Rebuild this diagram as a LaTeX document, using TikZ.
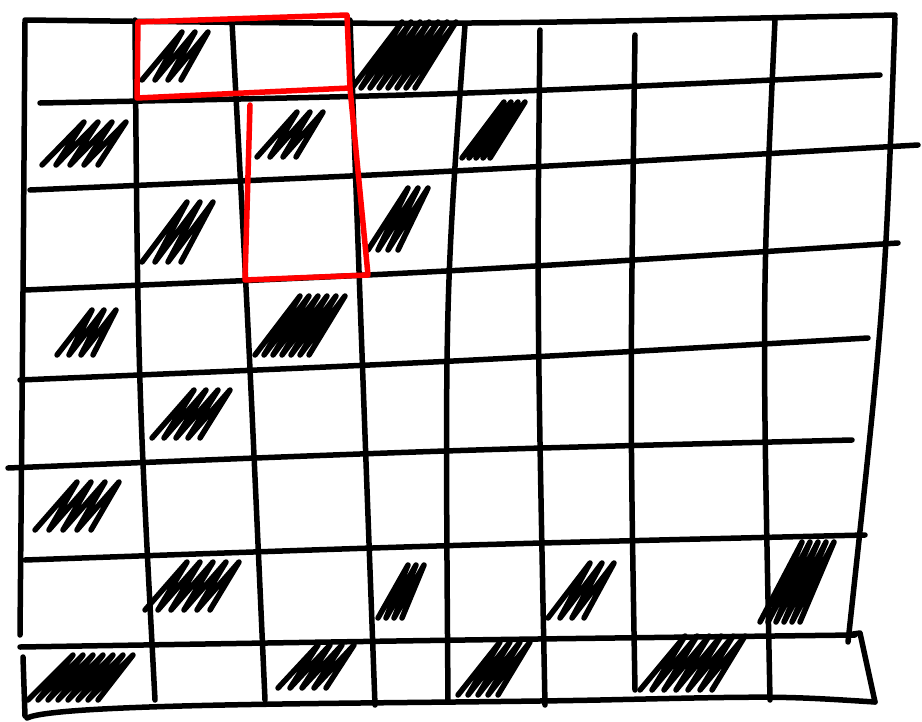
\documentclass[tikz,border=0pt]{standalone}
\begin{document}
\begin{tikzpicture}[x=1pt,y=-1pt,
  gridline/.style={line width=5.5pt,line cap=round,line join=round,black},
  hatch/.style={line width=5.5pt,line cap=round,line join=round,black},
  redline/.style={line width=5.5pt,line cap=round,line join=round,red}]
\useasboundingbox[fill=white] (0,0) rectangle (922,721);
% scribble hatch: #1 x0, #2 ytop, #3 ybot, #4 slant width, #5 step, #6 count
\newcommand\scrib[6]{\draw[hatch] (#1,#3) \foreach \i in {1,...,#6} { -- ++(#4,#2-#3) -- ++(#5-#4,#3-#2) };}
% vertical lines
\draw[gridline] (25,22) .. controls (23,300) .. (20,635);
\draw[gridline] (23,657) -- (25,716);
\draw[gridline] (135,20) .. controls (138,380) .. (155,700);
\draw[gridline] (232,22) .. controls (248,320) .. (265,700);
\draw[gridline] (350,20) .. controls (360,300) .. (375,705);
\draw[gridline] (465,25) .. controls (445,300) .. (448,702);
\draw[gridline] (540,30) .. controls (537,300) .. (545,705);
\draw[gridline] (635,35) .. controls (630,400) .. (635,690);
\draw[gridline] (775,20) .. controls (762,300) .. (770,700);
\draw[gridline] (895,18) .. controls (885,300) .. (848,642);
\draw[gridline] (853,634) -- (860,633) -- (875,702);
% horizontal lines
\draw[gridline] (25,20) .. controls (450,25) .. (895,15);
\draw[gridline] (40,103) .. controls (450,95) .. (880,75);
\draw[gridline] (30,190) .. controls (450,172) .. (918,145);
\draw[gridline] (25,290) .. controls (450,272) .. (898,243);
\draw[gridline] (20,380) .. controls (450,362) .. (868,338);
\draw[gridline] (8,468) .. controls (450,450) .. (852,440);
\draw[gridline] (25,560) .. controls (450,545) .. (865,535);
\draw[gridline] (20,647) .. controls (450,640) .. (855,635);
\draw[gridline] (27,718) .. controls (60,702) and (400,704) .. (600,700) .. controls (780,696) .. (875,702);
% hatched cells
\scrib{142}{32}{80}{40}{13}{3}
\scrib{352}{22}{88}{50}{9}{7}
\scrib{42}{122}{165}{42}{14}{4}
\scrib{257}{112}{157}{40}{13}{3}
\scrib{462}{102}{158}{42}{7}{4}
\scrib{142}{202}{262}{45}{13}{3}
\scrib{368}{188}{250}{40}{10}{3}
\scrib{57}{310}{355}{35}{12}{3}
\scrib{255}{296}{355}{45}{9}{6}
\scrib{152}{390}{438}{42}{12}{4}
\scrib{35}{482}{530}{42}{14}{4}
\scrib{145}{562}{610}{42}{13}{5}
\scrib{378}{565}{618}{30}{8}{3}
\scrib{548}{563}{618}{42}{12}{3}
\scrib{760}{542}{622}{42}{8}{5}
\scrib{28}{655}{700}{45}{10}{7}
\scrib{278}{645}{688}{40}{12}{4}
\scrib{458}{642}{695}{42}{10}{4}
\scrib{640}{636}{690}{45}{12}{6}
% red outline
\draw[redline] (138,22) -- (347,15) -- (350,88) -- (137,98) -- cycle;
\draw[redline] (250,105) -- (245,280) -- (368,275) -- (350,88);
\end{tikzpicture}
\end{document}
